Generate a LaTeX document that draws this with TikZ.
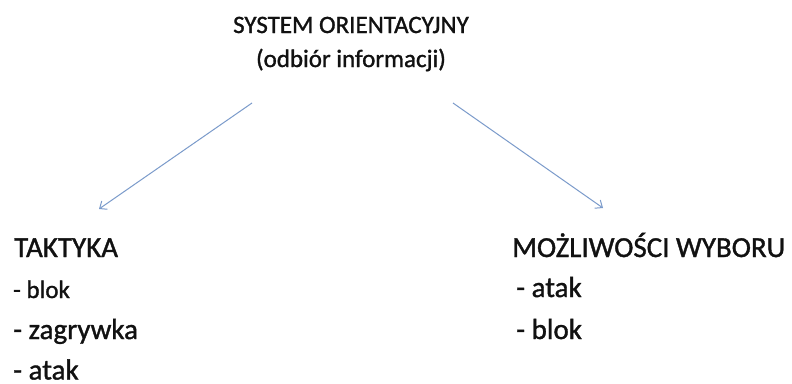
\documentclass[tikz,border=0pt]{standalone}
\usepackage{fontspec}
\setmainfont{Carlito}[FakeBold=1.2]
\usetikzlibrary{arrows.meta}
\tikzset{
  txt/.style={inner sep=0pt, anchor=base west, text=textdark},
  ttl/.style={inner sep=0pt, anchor=base, text=textdark, font=\fontsize{25}{30}\selectfont},
  big/.style={txt, font=\fontsize{29}{34}\selectfont},
  small/.style={txt, font=\fontsize{25}{30}\selectfont},
  conn/.style={draw=arrowblue, line width=1pt, -{Straight Barb[length=6pt,width=10pt,line width=1pt]}}
}
\definecolor{arrowblue}{HTML}{7B9BCB}
\definecolor{textdark}{HTML}{111111}
\begin{document}
\begin{tikzpicture}[x=1pt,y=-1pt]
\useasboundingbox[fill=white] (0,0) rectangle (792,383);
\node[ttl] (t1) at (351,33) {SYSTEM ORIENTACYJNY};
\node[ttl] (t2) at (351,67) {(odbiór informacji)};
\node[big] (taktyka) at (14,257) {TAKTYKA};
\node[small] (l1) at (13,298) {- blok};
\node[big] (l2) at (13,339) {- zagrywka};
\node[big] (l3) at (13,379.5) {- atak};
\node[big] (mozl) at (512,257) {MOŻLIWOŚCI WYBORU};
\node[big] (r1) at (516,297) {- atak};
\node[big] (r2) at (516,339) {- blok};
\coordinate (ls) at (252,103);
\coordinate (le) at (99,209);
\coordinate (rs) at (453,103);
\coordinate (re) at (603,208);
\draw[conn] (ls) -- (le);
\draw[conn] (rs) -- (re);
\end{tikzpicture}
\end{document}
